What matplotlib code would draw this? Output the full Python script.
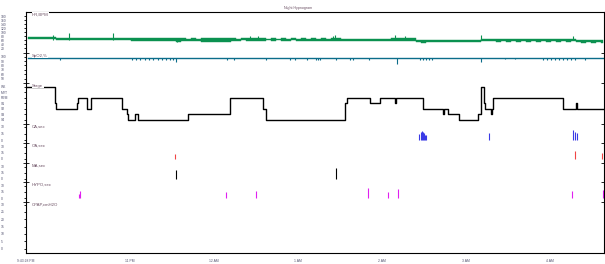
import numpy as np
import matplotlib.pyplot as plt

plt.rcParams['font.family'] = ['Liberation Sans', 'DejaVu Sans']

# 时间轴: 自 9:43:28 PM 起的小时数
t_left = 0.036
t_right = 6.917
hour_ticks = [0.036, 1.2756, 2.2756, 3.2756, 4.2756, 5.2756, 6.2756]
hour_labels = ['9:43:28 PM', '11 PM', '12 AM', '1 AM', '2 AM', '3 AM', '4 AM']

# HR / SpO2 每 ~3.6 分钟一列 (上下包络)
sample_first = 0.0655
sample_step = 0.0595
hr_hi = [78, 77, 79, 77, 78, 79,
         73, 72, 74, 73, 72, 73, 72, 73, 72, 73, 72, 73, 72, 73, 72,
         72, 71, 73, 72, 72, 73, 72, 71, 72,
         70, 71, 69, 70, 69, 71, 72, 70, 71, 70, 72,
         70, 69, 70, 72, 74, 73, 70, 69, 70, 69, 70, 69, 70, 69, 70, 69, 70, 69, 70, 69,
         70, 72, 69, 68, 69, 68, 69, 68, 69, 68, 69, 68, 70,
         74, 72, 73, 70,
         62, 61, 62, 61, 63, 62, 63, 62, 63, 62, 63, 62, 63,
         67, 66, 65, 66, 65, 66, 65, 66, 65, 66, 65, 66, 65, 66, 65, 66, 65, 66, 65,
         64, 63, 62, 63, 62, 63]
hr_lo = [68, 68, 67, 68, 68, 67,
         62, 62, 61, 62, 61, 62, 61, 62, 62, 61, 62, 61, 62, 61, 62,
         59, 59, 58, 59, 58, 59, 58, 59, 58,
         54, 55, 56, 55, 56, 54, 53, 54, 53, 54, 54,
         59, 59, 60, 59, 58, 59, 59, 60, 59, 60, 59, 59, 60, 59, 59, 58, 58, 59, 58, 59,
         57, 57, 57, 56, 57, 56, 57, 56, 57, 56, 56, 57, 56,
         58, 59, 59, 59,
         50, 49, 50, 50, 52, 52, 53, 52, 53, 52, 53, 53, 53,
         55, 55, 55, 54, 55, 54, 55, 54, 55, 54, 55, 54, 55, 54, 55, 54, 55, 54, 55,
         50, 49, 50, 49, 50, 49]
hr_spike_times = [0.357, 0.548, 1.071, 2.702, 2.798, 3.690, 3.714, 4.429, 4.548, 5.452, 6.548]
hr_spike_vals = [86, 95, 95, 82, 82, 82, 85, 88, 81, 88, 82]
hr_dip_times = [1.833]
hr_dip_vals = [50]

spo2_base = [96] * 75 + [97, 97, 97] + [96] * 38
spo2_dip_times = [0.440, 1.298, 1.345, 1.393, 1.452, 1.500, 1.548, 1.607, 1.655, 1.702,
                  1.750, 1.786, 1.821, 2.429, 2.512, 2.893, 3.179, 3.238, 3.381, 3.488,
                  3.512, 3.536, 3.726, 3.893, 3.929, 4.119, 4.449, 4.726, 4.762, 4.798,
                  4.833, 4.869, 5.452, 5.738, 5.857, 6.190, 6.238, 6.286, 6.333, 6.381,
                  6.429, 6.476, 6.524, 6.571, 6.690]
spo2_dip_vals = [93, 93, 92, 93, 93, 92, 93, 93, 92, 93,
                 92, 93, 89, 93, 93, 93, 93, 93, 93, 92,
                 92, 92, 93, 93, 93, 93, 83, 93, 93, 93,
                 93, 93, 89, 94, 94, 93, 93, 93, 93, 93,
                 93, 93, 93, 93, 93]

# 睡眠分期
stage_names = ['S4', 'S3', 'S2', 'S1', 'REM', 'MVT', 'WK']
stage_times = [0.036, 0.381, 0.393, 0.643, 0.655, 0.762, 0.810, 1.182, 1.235, 1.254,
               1.333, 1.373, 1.961, 2.464, 2.857, 2.893, 3.833, 3.857, 4.131, 4.250,
               4.429, 4.441, 4.766, 4.997, 5.008, 5.063, 5.194, 5.421, 5.452, 5.492,
               5.504, 5.575, 5.587, 5.599, 6.432, 6.587, 6.599]
stage_levels = [6, 3, 2, 3, 4, 2, 4, 2, 1, 0,
                1, 0, 1, 4, 2, 0, 3, 4, 3, 4,
                3, 4, 2, 1, 2, 1, 0, 1, 6, 3,
                2, 1, 2, 4, 2, 3, 2]

# 事件 (时间, 持续秒数)
ca_times = [4.718, 4.735, 4.746, 4.758, 4.770, 4.782, 4.801, 5.551, 6.551, 6.568, 6.592]
ca_sec = [13, 18, 21.5, 19, 15.5, 11.5, 11.5, 15.5, 23, 19, 15.5]
oa_times = [1.813, 6.575, 6.896]
oa_sec = [12, 20, 14.4]
ma_times = [1.821, 3.730]
ma_sec = [21.6, 27.6]
hypo_times = [0.667, 0.679, 2.420, 2.777, 4.111, 4.349, 4.468, 6.539, 6.908]
hypo_sec = [9.6, 16.8, 14.4, 16.8, 24, 14.4, 21.6, 16.8, 19.2]

W, H = 605, 264
fig = plt.figure(figsize=(W / 100, H / 100), dpi=100)

tick_font = 2.4
label_color = '#6b4f63'
tick_color = '#50506e'


def make_panel(top, bottom, v1, p1, v2, p2, ticks, ticklabels, name, first=False, last=False):
    ax = fig.add_axes([26 / W, 1 - bottom / H, 578 / W, (bottom - top) / H])
    ax.set_facecolor('none')
    k = (v1 - v2) / (p2 - p1)
    ax.set_ylim(v2 - (bottom - p2) * k, v1 + (p1 - top) * k)
    ax.set_xlim(t_left, t_right)
    for s in ['top', 'bottom']:
        ax.spines[s].set_visible(False)
    for s in ['left', 'right']:
        ax.spines[s].set_linewidth(0.8)
    if first:
        ax.spines['top'].set_visible(True)
        ax.spines['top'].set_linewidth(0.8)
    ax.set_yticks(ticks)
    ax.set_yticklabels(ticklabels, fontsize=tick_font, color=tick_color, ha='left')
    ax.tick_params(axis='y', which='major', direction='out', length=1.5, width=0.6,
                   pad=16.5, right=True)
    if not first:
        ax.set_yticks([ax.get_ylim()[1]], minor=True)
        ax.tick_params(axis='y', which='minor', direction='inout', length=4, width=0.6,
                       right=True)
    ax.tick_params(axis='x', length=0)
    if last:
        ax.spines['bottom'].set_visible(True)
        ax.spines['bottom'].set_linewidth(0.8)
        ax.set_xticks(hour_ticks)
        ax.set_xticklabels(hour_labels, fontsize=tick_font, color=tick_color)
        ax.tick_params(axis='x', pad=4)
    else:
        ax.set_xticks([])
    ax.text(6 / 578, 1 - 2.6 / (bottom - top), name, transform=ax.transAxes,
            fontsize=3.1, color=label_color, va='center', ha='left',
            bbox=dict(facecolor='white', edgecolor='none', pad=0.3), zorder=5)
    return ax


# 心率
ax_hr = make_panel(12, 53.3, 180, 16.3, 20, 48.3, [180, 160, 140, 120, 100, 80, 60, 40, 20],
                   ['180', '160', '140', '120', '100', '80', '60', '40', '20'], 'HR,BPM', first=True)
t_samp = sample_first + sample_step * np.arange(len(hr_hi))
hr_green = '#0b9150'
ax_hr.fill_between(t_samp, hr_lo, hr_hi, step='mid', color=hr_green, lw=0.3)
ax_hr.vlines(hr_spike_times, 62, hr_spike_vals, color=hr_green, lw=0.8)
ax_hr.vlines(hr_dip_times, hr_dip_vals, 60, color=hr_green, lw=0.8)

# 血氧
ax_sp = make_panel(53.3, 83.3, 100, 56.7, 50, 78.7, [100, 90, 80, 70, 60, 50],
                   ['100', '90', '80', '70', '60', '50'], 'SpO2,%')
sp_blue = '#0b6d8a'
ax_sp.step(t_samp, spo2_base, where='mid', color=sp_blue, lw=1.0)
ax_sp.vlines(spo2_dip_times, spo2_dip_vals, 96, color=sp_blue, lw=0.8)

# 睡眠分期
ax_st = make_panel(83.3, 124.3, 6, 86.7, 0, 119.6, list(range(7)), stage_names, 'Stage')
ax_st.step(stage_times + [t_right], stage_levels + [stage_levels[-1]], where='post',
           color='black', lw=1.0)

# 事件
ev_ticks = [30, 15, 0]
ev_labels = ['30', '15', '0']
ax_ca = make_panel(124.3, 143.3, 30, 127, 0, 140, ev_ticks, ev_labels, 'CA,sec')
ax_ca.vlines(ca_times, 0, ca_sec, color='#3a3ae6', lw=0.8)
ax_oa = make_panel(143.3, 163.3, 30, 146.5, 0, 159, ev_ticks, ev_labels, 'OA,sec')
ax_oa.vlines(oa_times, 0, oa_sec, color='#f04545', lw=0.8)
ax_ma = make_panel(163.3, 182.3, 30, 166.5, 0, 179, ev_ticks, ev_labels, 'MA,sec')
ax_ma.vlines(ma_times, 0, ma_sec, color='black', lw=0.8)
ax_hy = make_panel(182.3, 201.7, 30, 185.5, 0, 198, ev_ticks, ev_labels, 'HYPO,sec')
ax_hy.vlines(hypo_times, 0, hypo_sec, color='#e020f0', lw=0.8)

# CPAP
ax_cp = make_panel(201.7, 253, 30, 204.5, 0, 248.5, [30, 25, 20, 15, 10, 5, 0],
                   ['30', '25', '20', '15', '10', '5', '0'], 'CPAP,cmH2O', last=True)

fig.text(298 / W, 1 - 8 / H, 'Night Hypnogram', fontsize=2.6, color=label_color,
         ha='center', va='center')

fig.savefig('out.png', dpi=100)
